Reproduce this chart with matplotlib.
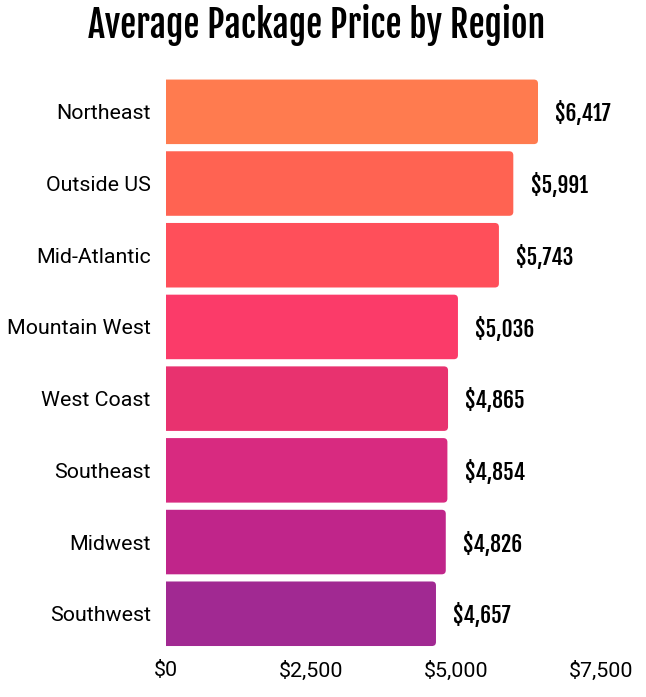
import matplotlib
matplotlib.use("Agg")
import matplotlib.pyplot as plt
from matplotlib.patches import FancyBboxPatch
from matplotlib.ticker import FuncFormatter

regions = ["Northeast", "Outside US", "Mid-Atlantic", "Mountain West",
           "West Coast", "Southeast", "Midwest", "Southwest"]
prices = [6417, 5991, 5743, 5036, 4865, 4854, 4826, 4657]
colors = ["#FF7B4F", "#FF6352", "#FF4F5A", "#FB3B69",
          "#E8326F", "#D82A80", "#C0258A", "#A12992"]
xticks = [0, 2500, 5000, 7500]

condensed = ["Fjalla One", "DejaVu Sans"]
plt.rcParams["font.family"] = ["Roboto", "DejaVu Sans"]

fig = plt.figure(figsize=(6.46, 6.97), dpi=100)
ax = fig.add_axes([0.257, 0.068, 0.673, 0.823])

ys = list(range(len(regions)))
h = 0.9
for y, v, c in zip(ys, prices, colors):
    # rounded bar; left edge starts off-axes so only the right corners show
    box = FancyBboxPatch((-200, y - h / 2), v + 200, h,
                         boxstyle="round,pad=0,rounding_size=70",
                         mutation_aspect=0.0008,
                         facecolor=c, edgecolor="none")
    ax.add_patch(box)
    ax.text(v + 300, y + 0.03, f"${v:,}", ha="left", va="center",
            fontsize=15.5, family=condensed)

ax.set_xlim(0, 7500)
ax.set_ylim(len(regions) - 0.5, -0.5)
ax.set_yticks(ys)
ax.set_yticklabels(regions, fontsize=15.4)
ax.set_xticks(xticks)
ax.xaxis.set_major_formatter(FuncFormatter(lambda x, p: f"${x:,.0f}"))
ax.tick_params(axis="x", labelsize=15.4, length=0, pad=8)
ax.tick_params(axis="y", length=0, pad=11)
for s in ax.spines.values():
    s.set_visible(False)

fig.text(0.49, 0.964, "Average Package Price by Region", ha="center",
         va="center", fontsize=26, family=condensed)

fig.savefig("out.png", dpi=100)
